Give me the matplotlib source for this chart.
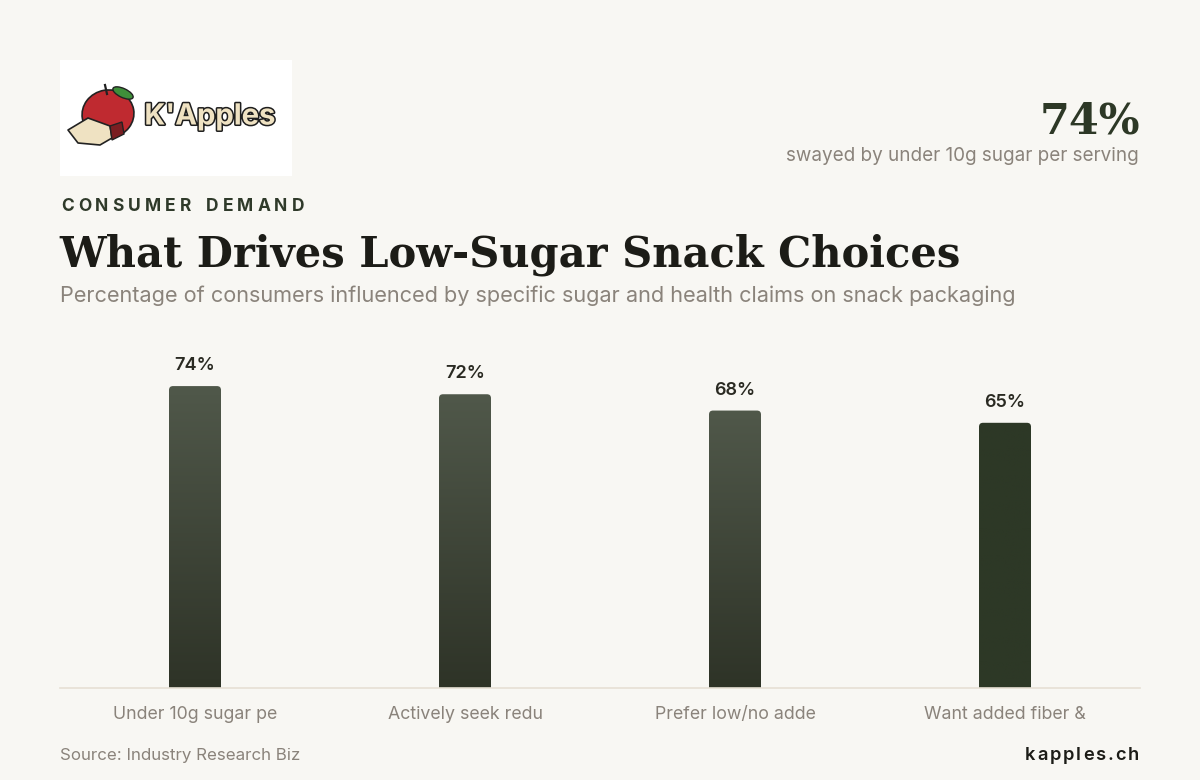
import matplotlib
matplotlib.use("Agg")
import matplotlib.pyplot as plt
import matplotlib.patheffects as pe
from matplotlib.path import Path
from matplotlib.patches import PathPatch, Ellipse, Polygon
from matplotlib.colors import LinearSegmentedColormap
import numpy as np

# data
categories = ["Under 10g sugar pe", "Actively seek redu", "Prefer low/no adde", "Want added fiber &"]
values = [74, 72, 68, 65]
value_labels = ["74%", "72%", "68%", "65%"]

BG = "#f8f7f3"
DARK = "#2d3826"
GREY = "#8a837b"
SANS = ["Inter", "DejaVu Sans"]
SERIF = ["DejaVu Serif"]

W, H = 1200, 780
fig = plt.figure(figsize=(12, 7.8), dpi=100, facecolor=BG)


def fx(x):
    return x / W


def fy(y):
    return 1 - y / H


def spaced(x, y, s, spacing, **kw):
    # draw text char by char to fake letter spacing
    r = fig.canvas.get_renderer()
    ha = kw.pop("ha", "left")
    widths = []
    for ch in s:
        t = fig.text(0, 0, ch if ch != " " else "n", **kw)
        bb = t.get_window_extent(r)
        widths.append(bb.width * (0.6 if ch == " " else 1))
        t.remove()
    total = sum(widths) + spacing * (len(s) - 1)
    if ha == "right":
        x = x - total
    cx = x
    for ch, w in zip(s, widths):
        if ch != " ":
            fig.text(fx(cx), fy(y), ch, ha="left", **kw)
        cx += w + spacing


# logo box
logo = fig.add_axes([fx(60), fy(176), fx(232), 116 / H])
logo.set_xlim(0, 232)
logo.set_ylim(116, 0)
logo.set_facecolor("white")
logo.set_xticks([])
logo.set_yticks([])
for s in logo.spines.values():
    s.set_visible(False)
logo.add_patch(Ellipse((48, 54), 52, 48, angle=-10, facecolor="#bf2a30", edgecolor="#222", lw=1.2))
logo.add_patch(Ellipse((63, 33), 22, 9, angle=25, facecolor="#3f8f3a", edgecolor="#222", lw=1))
logo.plot([47, 45], [34, 25], color="#222", lw=1.6)
logo.add_patch(Polygon([[8, 70], [28, 58], [50, 66], [52, 78], [40, 85], [18, 83]],
                       closed=True, facecolor="#efe2c2", edgecolor="#222", lw=1.2,
                       joinstyle="round"))
logo.add_patch(Polygon([[50, 66], [62, 62], [64, 74], [52, 80]], closed=True,
                       facecolor="#7a1e22", edgecolor="#222", lw=1))
logo.text(150, 57, "K'Apples", ha="center", va="center", fontsize=21, fontweight="bold",
          color="#efe2c2", family=SANS,
          path_effects=[pe.withStroke(linewidth=2.2, foreground="#1e1e1e")])

# top right kpi
fig.text(fx(1140), fy(134), "74%", ha="right", va="baseline", fontsize=31,
         fontweight="bold", color=DARK, family=SERIF)
fig.text(fx(1139), fy(161), "swayed by under 10g sugar per serving", ha="right",
         va="baseline", fontsize=13.6, color=GREY, family=SANS)

# headings
spaced(61, 211, "CONSUMER DEMAND", 4.1, fontsize=12.5, fontweight="bold",
       color="#2f3a2a", family=SANS, va="baseline")
fig.text(fx(59), fy(266), "What Drives Low-Sugar Snack Choices", ha="left",
         va="baseline", fontsize=30, fontweight="bold", color="#1c1c17", family=SERIF)
fig.text(fx(60), fy(302), "Percentage of consumers influenced by specific sugar and health claims on snack packaging",
         ha="left", va="baseline", fontsize=15.6, color=GREY, family=SANS)

# chart
ax = fig.add_axes([fx(60), fy(688), fx(1080), (688 - 280) / H])
ax.set_facecolor(BG)
x = np.arange(len(categories))
bw = 52 / 270
bars = ax.bar(x, values, width=bw, color="none", edgecolor="none")
ax.set_xlim(-0.5, 3.5)
ax.set_ylim(0, 100)

rx = 4 / 270
ry = 4 / 4.08
grad = np.linspace(0, 1, 256).reshape(-1, 1)
cmap_g = LinearSegmentedColormap.from_list("g", ["#2e3327", "#50584a"])
cmap_s = LinearSegmentedColormap.from_list("s", [DARK, DARK])

for i, b in enumerate(bars):
    x0 = b.get_x()
    x1 = x0 + b.get_width()
    h = b.get_height()
    verts = [(x0, 0), (x0, h - ry), (x0, h), (x0 + rx, h), (x1 - rx, h),
             (x1, h), (x1, h - ry), (x1, 0), (x0, 0)]
    codes = [Path.MOVETO, Path.LINETO, Path.CURVE3, Path.CURVE3, Path.LINETO,
             Path.CURVE3, Path.CURVE3, Path.LINETO, Path.CLOSEPOLY]
    patch = PathPatch(Path(verts, codes), facecolor="none", edgecolor="none")
    ax.add_patch(patch)
    cm = cmap_s if i == len(bars) - 1 else cmap_g
    im = ax.imshow(grad, extent=[x0, x1, 0, h], origin="lower", aspect="auto",
                   cmap=cm, zorder=2)
    im.set_clip_path(patch)
    ax.text(b.get_x() + b.get_width() / 2, h + 12 / 4.08, value_labels[i],
            ha="center", va="bottom", fontsize=13, fontweight="semibold",
            color="#2a2a22", family=SANS)

ax.set_xlim(-0.5, 3.5)
ax.set_ylim(0, 100)
ax.set_xticks(x)
ax.set_xticklabels(categories, fontsize=12.8, color=GREY, family=SANS)
ax.tick_params(axis="x", length=0, pad=13)
ax.set_yticks([])
for s in ["top", "left", "right"]:
    ax.spines[s].set_visible(False)
ax.spines["bottom"].set_color("#e6e0d4")
ax.spines["bottom"].set_linewidth(1.2)

# footer
fig.text(fx(60), fy(760), "Source: Industry Research Biz", ha="left", va="baseline",
         fontsize=12.2, color=GREY, family=SANS)
spaced(1139, 760, "kapples.ch", 1.9, fontsize=13.2, fontweight="semibold",
       color="#1c1c17", family=SANS, va="baseline", ha="right")

fig.savefig("out.png", dpi=100, facecolor=BG)
